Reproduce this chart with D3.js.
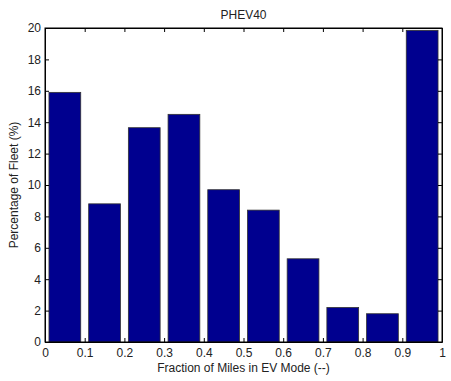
<!DOCTYPE html>
<html><head><meta charset="utf-8">
<script src="https://cdn.jsdelivr.net/npm/d3@7"></script>
<style>body{margin:0;background:#fff}svg{display:block}text{font-family:"Liberation Sans",Arial,sans-serif}</style>
</head><body><svg id="c" width="451" height="381"></svg>
<script>
const binCenters = [0.05,0.15,0.25,0.35,0.45,0.55,0.65,0.75,0.85,0.95];
const fleetPct = [15.9,8.8,13.65,14.5,9.7,8.4,5.3,2.2,1.8,19.85];
const xTicks = [0,0.1,0.2,0.3,0.4,0.5,0.6,0.7,0.8,0.9,1];
const yTicks = [0,2,4,6,8,10,12,14,16,18,20];

const svg = d3.select("#c");
const L=45,R=442,T=28,B=342;
const x = d3.scaleLinear().domain([0,1]).range([L,R]);
const y = d3.scaleLinear().domain([0,20]).range([B,T]);
const bw = (x(0.1)-x(0))*0.8;
const FS = 12;

svg.selectAll("rect.bar").data(binCenters).enter().append("rect").attr("class","bar")
 .attr("x",d=>x(d)-bw/2).attr("width",bw)
 .attr("y",(d,i)=>y(fleetPct[i])).attr("height",(d,i)=>B-y(fleetPct[i]))
 .attr("fill","#00008f").attr("stroke","#333").attr("stroke-width",0.8);

const fmt = d=>String(d);
const tl=4;
const gx = svg.append("g").attr("transform",`translate(0,${B})`)
 .call(d3.axisBottom(x).tickValues(xTicks).tickFormat(fmt).tickSizeInner(-tl).tickSizeOuter(0).tickPadding(6));
const gxt = svg.append("g").attr("transform",`translate(0,${T})`)
 .call(d3.axisTop(x).tickValues(xTicks).tickFormat("").tickSizeInner(-tl).tickSizeOuter(0));
const gy = svg.append("g").attr("transform",`translate(${L},0)`)
 .call(d3.axisLeft(y).tickValues(yTicks).tickFormat(fmt).tickSizeInner(-tl).tickSizeOuter(0).tickPadding(4));
const gyr = svg.append("g").attr("transform",`translate(${R},0)`)
 .call(d3.axisRight(y).tickValues(yTicks).tickFormat("").tickSizeInner(-tl).tickSizeOuter(0));
[gx,gxt,gy,gyr].forEach(g=>{
  g.attr("font-size",FS);
  g.selectAll("text").attr("fill","#222").style("font-family","'Liberation Sans',Arial,sans-serif");
  g.selectAll("line").attr("stroke","#000");
  g.select(".domain").attr("stroke","#000");
});
svg.append("rect").attr("x",L).attr("y",T).attr("width",R-L).attr("height",B-T)
 .attr("fill","none").attr("stroke","#000").attr("stroke-width",1);

svg.append("text").attr("x",(L+R)/2).attr("y",19).attr("text-anchor","middle").attr("font-size",FS).attr("fill","#222").text("PHEV40");
svg.append("text").attr("x",(L+R)/2).attr("y",372).attr("text-anchor","middle").attr("font-size",FS).attr("fill","#222").text("Fraction of Miles in EV Mode (--)");
svg.append("text").attr("transform",`translate(18,${(T+B)/2}) rotate(-90)`).attr("text-anchor","middle").attr("font-size",FS).attr("fill","#222").text("Percentage of Fleet (%)");
</script></body></html>
